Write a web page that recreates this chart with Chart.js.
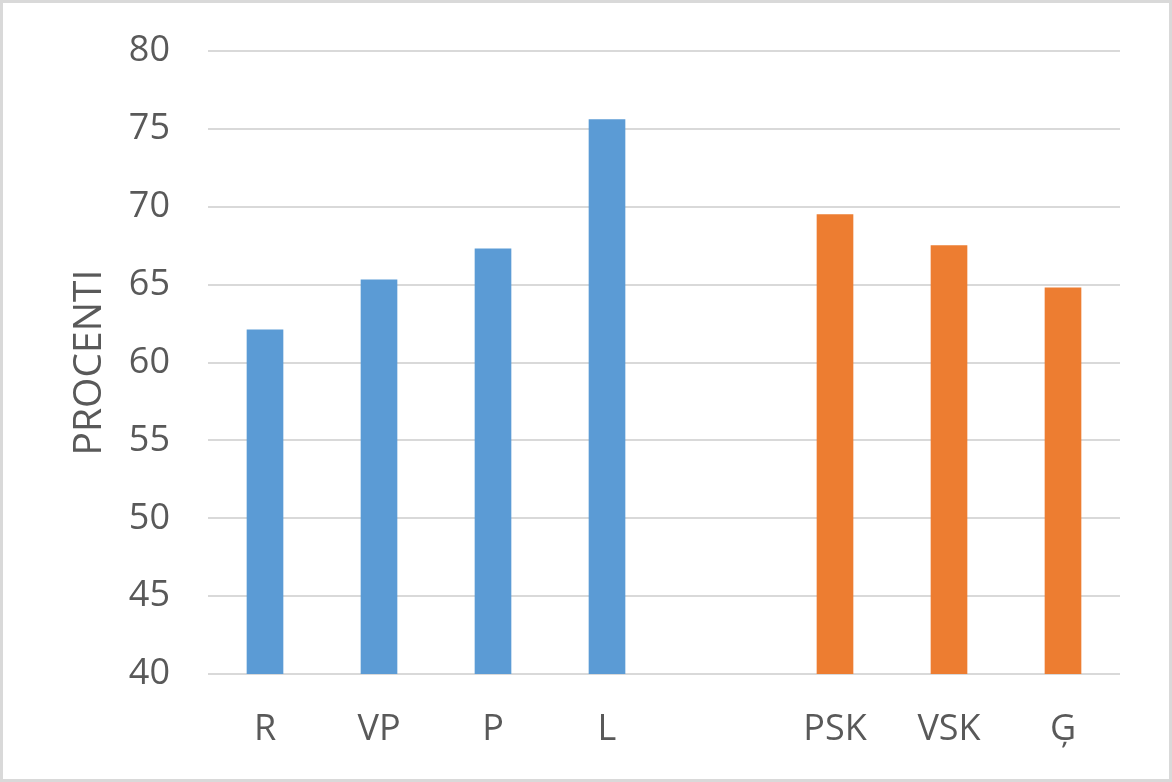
<!DOCTYPE html>
<html>
<head>
<meta charset="utf-8">
<script src="https://cdn.jsdelivr.net/npm/chart.js@4.4.1/dist/chart.umd.min.js"></script>
<style>
  html, body { margin: 0; padding: 0; background: #fff; }
  #wrap { width: 1172px; height: 782px; position: relative; }
</style>
</head>
<body>
<div id="wrap"><canvas id="chart"></canvas></div>
<script>
// categories (empty slot separates the two groups)
const categories = ['R', 'VP', 'P', 'L', '', 'PSK', 'VSK', 'Ģ'];
// first group (blue)
const blueValues = [62.1, 65.3, 67.3, 75.6, null, null, null, null];
// second group (orange)
const orangeValues = [null, null, null, null, null, 69.5, 67.5, 64.8];
const yTicks = [40, 45, 50, 55, 60, 65, 70, 75, 80];
const yTitle = 'PROCENTI';

const textColor = '#595959';
const gridColor = '#d9d9d9';
const fontFamily = '"Open Sans", "Liberation Sans", sans-serif';

// white background + light grey frame round the whole chart
const frame = {
  id: 'frame',
  beforeDraw(chart) {
    const ctx = chart.ctx;
    ctx.save();
    ctx.fillStyle = '#fff';
    ctx.fillRect(0, 0, chart.width, chart.height);
    ctx.strokeStyle = gridColor;
    ctx.lineWidth = 3;
    ctx.strokeRect(1.5, 1.5, chart.width - 3, chart.height - 3);
    ctx.restore();
  }
};

new Chart(document.getElementById('chart'), {
  type: 'bar',
  data: {
    labels: categories,
    datasets: [
      {
        label: 'A',
        data: blueValues,
        backgroundColor: '#5b9bd5',
        barThickness: 36
      },
      {
        label: 'B',
        data: orangeValues,
        backgroundColor: '#ed7d31',
        barThickness: 36
      }
    ]
  },
  options: {
    responsive: true,
    maintainAspectRatio: false,
    animation: false,
    layout: {
      padding: { left: 0, right: 52, top: 51, bottom: 0 }
    },
    plugins: {
      legend: { display: false },
      tooltip: { enabled: false }
    },
    scales: {
      x: {
        stacked: true,
        grid: { display: false },
        border: { display: false },
        ticks: {
          color: textColor,
          font: { family: fontFamily, size: 36 },
          padding: 26,
          maxRotation: 0
        },
        afterFit(scale) { scale.height = 782 - 674; }
      },
      y: {
        min: 40,
        max: 80,
        afterBuildTicks(scale) {
          scale.ticks = yTicks.map(v => ({ value: v }));
        },
        grid: {
          color: gridColor,
          lineWidth: 2,
          drawTicks: false
        },
        border: { display: false },
        ticks: {
          color: textColor,
          font: { family: fontFamily, size: 36 },
          padding: 38
        },
        title: {
          display: true,
          text: yTitle,
          color: textColor,
          font: { family: fontFamily, size: 39 },
          padding: { top: 66, bottom: 0 }
        },
        afterFit(scale) {
          scale.width = 208;
          scale.paddingTop = 0;
          scale.paddingBottom = 0;
        }
      }
    }
  },
  plugins: [frame]
});
</script>
</body>
</html>
